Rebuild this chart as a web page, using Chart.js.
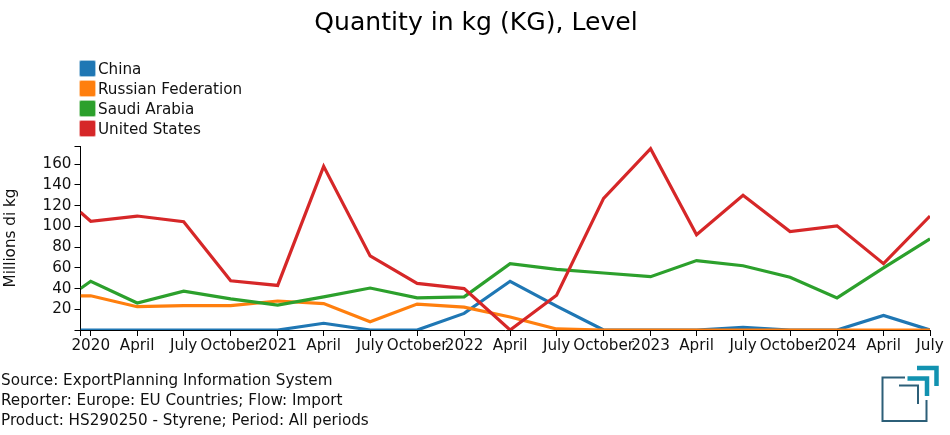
<!DOCTYPE html>
<html>
<head>
<meta charset="utf-8">
<script src="https://cdn.jsdelivr.net/npm/chart.js@4"></script>
<style>
    html, body { margin: 0; padding: 0; background: #fff; }
    body { position: relative; width: 950px; height: 435px; overflow: hidden; font-family: "DejaVu Sans", sans-serif; color: #111; }
    canvas { position: absolute; left: 0; top: 0; }
    #title { position: absolute; left: 1px; width: 950px; top: 6px; text-align: center; font-size: 25.1px; line-height: 32px; color: #000; }
    #legend { position: absolute; left: 80px; top: 58px; font-size: 15.2px; }
    #legend div { height: 20px; line-height: 22px; white-space: nowrap; }
    #legend span { display: inline-block; width: 15px; height: 15px; margin-right: 3px; vertical-align: -2px; border-radius: 1px; }
    #source { position: absolute; left: 1px; top: 370px; font-size: 15.2px; line-height: 20px; }
    #logo { position: absolute; left: 875px; top: 360px; }
</style>
</head>
<body>
<canvas id="mychart" width="950" height="435"></canvas>
<div id="title">Quantity in kg (KG), Level</div>
<div id="legend"></div>
<div id="source">
    Source: ExportPlanning Information System<br>
    Reporter: Europe: EU Countries; Flow: Import<br>
    Product: HS290250 - Styrene; Period: All periods
</div>
<svg id="logo" width="70" height="70" viewBox="875 360 70 70" fill="none">
    <path d="M905 377.5H882.5V421H926.5V400" stroke="#2c5f78" stroke-width="2"/>
    <path d="M899 385.5H918V404" stroke="#2c5f78" stroke-width="2"/>
    <path d="M907.5 378.5H927V396" stroke="#1292b0" stroke-width="4.5"/>
    <path d="M917 368H936.5V386" stroke="#1292b0" stroke-width="4.5"/>
</svg>
<script>
const ctx = document.getElementById('mychart')

const day = (s) => (Date.parse(s) - Date.parse('2020-01-01')) / 86400000;

const periods = ['2019-12-12', '2020-01-01', '2020-04-01', '2020-07-01', '2020-10-01',
    '2021-01-01', '2021-04-01', '2021-07-01', '2021-10-01',
    '2022-01-01', '2022-04-01', '2022-07-01', '2022-10-01',
    '2023-01-01', '2023-04-01', '2023-07-01', '2023-10-01',
    '2024-01-01', '2024-04-01', '2024-07-01'];

const series = {
    'China': [0, 0, 0, 0, 0, 0, 6.5, 0, 0, 16, 47, 23, 0, 0, 0, 2.5, 0, 0, 14, 0],
    'Russian Federation': [33, 33, 22.5, 23.5, 23.5, 28, 25.5, 8, 25, 22, 12.5, 1, 0, 0, 0, 0, 0, 0, 0, 0],
    'Saudi Arabia': [40, 47, 26, 37.5, 30, 24, 32, 40.5, 31, 32, 64, 58.5, 55, 51.5, 67, 62, 51, 31, 60, 88],
    'United States': [113.7, 105, 110, 104.5, 47.5, 43, 158, 71.5, 45, 40, 0, 33.5, 127, 175, 92, 130, 95, 100.5, 64, 110]
};
const colors = ['#1f77b4', '#ff7f0e', '#2ca02c', '#d62728'];
const tickDates = periods.slice(1);
const months = { '01': null, '04': 'April', '07': 'July', '10': 'October' };

const tickFont = { family: '"DejaVu Sans"', size: 15.2 };
const xMin = day(periods[0]), xMax = day('2024-07-01');
const yMax = 177.6;

const data = {
    datasets: Object.keys(series).map((name, i) => ({
        label: name,
        data: series[name].map((v, j) => ({ x: day(periods[j]), y: v })),
        borderColor: colors[i],
        backgroundColor: colors[i],
        borderWidth: 3.2,
        pointRadius: 0,
        tension: 0,
        clip: 0,
        order: 4 - i
    }))
};

const chart = new Chart(ctx, {
    type: 'line',
    data: data,
    options: {
        responsive: false,
        animation: false,
        layout: { padding: { left: 0, top: 146, right: 20, bottom: 81 } },
        plugins: { legend: { display: false }, title: { display: false }, tooltip: { enabled: false } },
        scales: {
            x: {
                type: 'linear',
                min: xMin,
                max: xMax,
                afterBuildTicks: (s) => {
                    s.ticks = [{ value: xMin }].concat(tickDates.map((d) => ({ value: day(d) })));
                },
                afterTickToLabelConversion: (s) => {
                    s.ticks.forEach((t, i) => { t.label = i === 0 ? '' : (months[tickDates[i - 1].slice(5, 7)] || tickDates[i - 1].slice(0, 4)); });
                },
                afterFit: (s) => { s.height = 24; },
                border: { color: '#000', width: 1 },
                grid: { drawOnChartArea: false, drawTicks: true, tickLength: 6, color: '#000' },
                ticks: { autoSkip: false, maxRotation: 0, minRotation: 0, padding: 1, color: '#111', font: tickFont }
            },
            y: {
                type: 'linear',
                min: 0,
                max: yMax,
                afterBuildTicks: (s) => {
                    s.ticks = [0, 20, 40, 60, 80, 100, 120, 140, 160, yMax].map((v) => ({ value: v }));
                },
                afterFit: (s) => { s.width = 80.5; },
                border: { color: '#000', width: 1 },
                grid: { drawOnChartArea: false, drawTicks: true, tickLength: 6, color: '#000' },
                ticks: {
                    autoSkip: false,
                    padding: 3,
                    color: '#111',
                    font: tickFont,
                    callback: (v) => (v === 0 || v === yMax ? '' : v)
                },
                title: { display: true, text: 'Millions di kg', color: '#111', font: tickFont, padding: { top: 2, bottom: 0 } }
            }
        }
    }
});

// legend list next to the chart, same order as the datasets
document.getElementById('legend').innerHTML = chart.data.datasets.map((d) =>
    '<div><span style="background:' + d.backgroundColor + ';box-shadow:0 0 0 1px ' + d.backgroundColor + '66"></span>' + d.label + '</div>'
).join('');
</script>
</body>
</html>
